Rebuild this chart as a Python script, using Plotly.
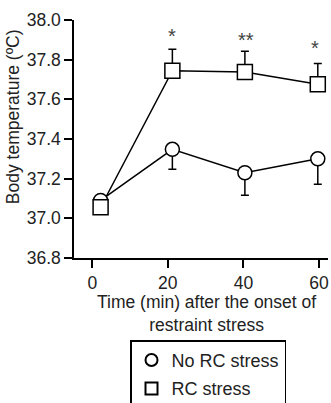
import plotly.graph_objects as go

# x positions of the plotted points (min after onset)
time_points = [2.2, 21.2, 40.4, 59.7]
tick_values = [0, 20, 40, 60]
tick_labels = ["0", "20", "40", "60"]

no_rc_mean = [37.09, 37.348, 37.23, 37.30]
no_rc_err_down = [0.0, 0.10, 0.114, 0.128]

rc_mean = [37.056, 37.744, 37.738, 37.676]
rc_err_up = [0.0, 0.108, 0.105, 0.105]

star_labels = ["", "*", "**", "*"]
star_y = [None, 37.921, 37.899, 37.857]
star_x = [None, 21.0, 40.8, 58.9]

y_ticks = [36.8, 37.0, 37.2, 37.4, 37.6, 37.8, 38.0]

FONT = "Liberation Sans, Arial, sans-serif"
FS = 17.5

fig = go.Figure()

# connecting lines (no legend)
for y in (no_rc_mean, rc_mean):
    fig.add_trace(go.Scatter(x=time_points, y=y, mode="lines", showlegend=False,
                             line=dict(color="black", width=1.5), hoverinfo="skip"))

fig.add_trace(go.Scatter(
    x=time_points, y=no_rc_mean, mode="markers", name="No RC stress",
    legendgroup="a",
    marker=dict(symbol="circle", size=14, color="white", line=dict(color="black", width=1.5)),
    error_y=dict(type="data", symmetric=False, array=[0]*4, arrayminus=no_rc_err_down,
                 color="black", thickness=1.5, width=4),
))
fig.add_trace(go.Scatter(
    x=time_points, y=rc_mean, mode="markers", name="RC stress",
    legendgroup="b",
    marker=dict(symbol="square", size=15, color="white", line=dict(color="black", width=1.5)),
    error_y=dict(type="data", symmetric=False, array=rc_err_up, arrayminus=[0]*4,
                 color="black", thickness=1.5, width=4),
))

for sx, sy, lab in zip(star_x, star_y, star_labels):
    if lab:
        fig.add_annotation(x=sx, y=sy, text=lab, showarrow=False, xref="x", yref="y",
                           font=dict(family=FONT, size=20, color="#444"),
                           xanchor="center", yanchor="middle", yshift=0)

fig.add_annotation(x=-0.242, y=0.594, xref="paper", yref="paper",
                   text="Body temperature (ºC)", textangle=-90, showarrow=False,
                   font=dict(family=FONT, size=FS, color="#222"),
                   xanchor="center", yanchor="middle")
fig.add_annotation(x=0.5217, y=-0.2347, xref="paper", yref="paper",
                   text="Time (min) after the onset of<br>restraint stress", showarrow=False,
                   font=dict(family=FONT, size=FS, color="#222"),
                   xanchor="center", yanchor="middle")

fig.update_layout(
    width=331, height=403,
    margin=dict(l=74, r=3, t=20, b=145, autoexpand=False),
    paper_bgcolor="white", plot_bgcolor="white",
    font=dict(family=FONT, size=FS, color="#222"),
    showlegend=True,
    legend=dict(x=0.2205, y=-0.346, xanchor="left", yanchor="top",
                bordercolor="black", borderwidth=1.5, bgcolor="white",
                font=dict(family=FONT, size=18, color="#222"),
                tracegroupgap=2, itemsizing="constant"),
    xaxis=dict(range=[-4.84, 62.4], tickvals=tick_values, ticktext=tick_labels,
               showline=True, linecolor="black", linewidth=1.5,
               ticks="outside", ticklen=8, tickwidth=1.5, tickcolor="black",
               showgrid=False, zeroline=False),
    yaxis=dict(range=[36.8, 38.0], tickvals=y_ticks, ticktext=[f"{v:.1f}" for v in y_ticks],
               showline=True, linecolor="black", linewidth=1.5,
               ticks="outside", ticklen=8, tickwidth=1.5, tickcolor="black",
               showgrid=False, zeroline=False),
)

fig.write_html("out.html")
